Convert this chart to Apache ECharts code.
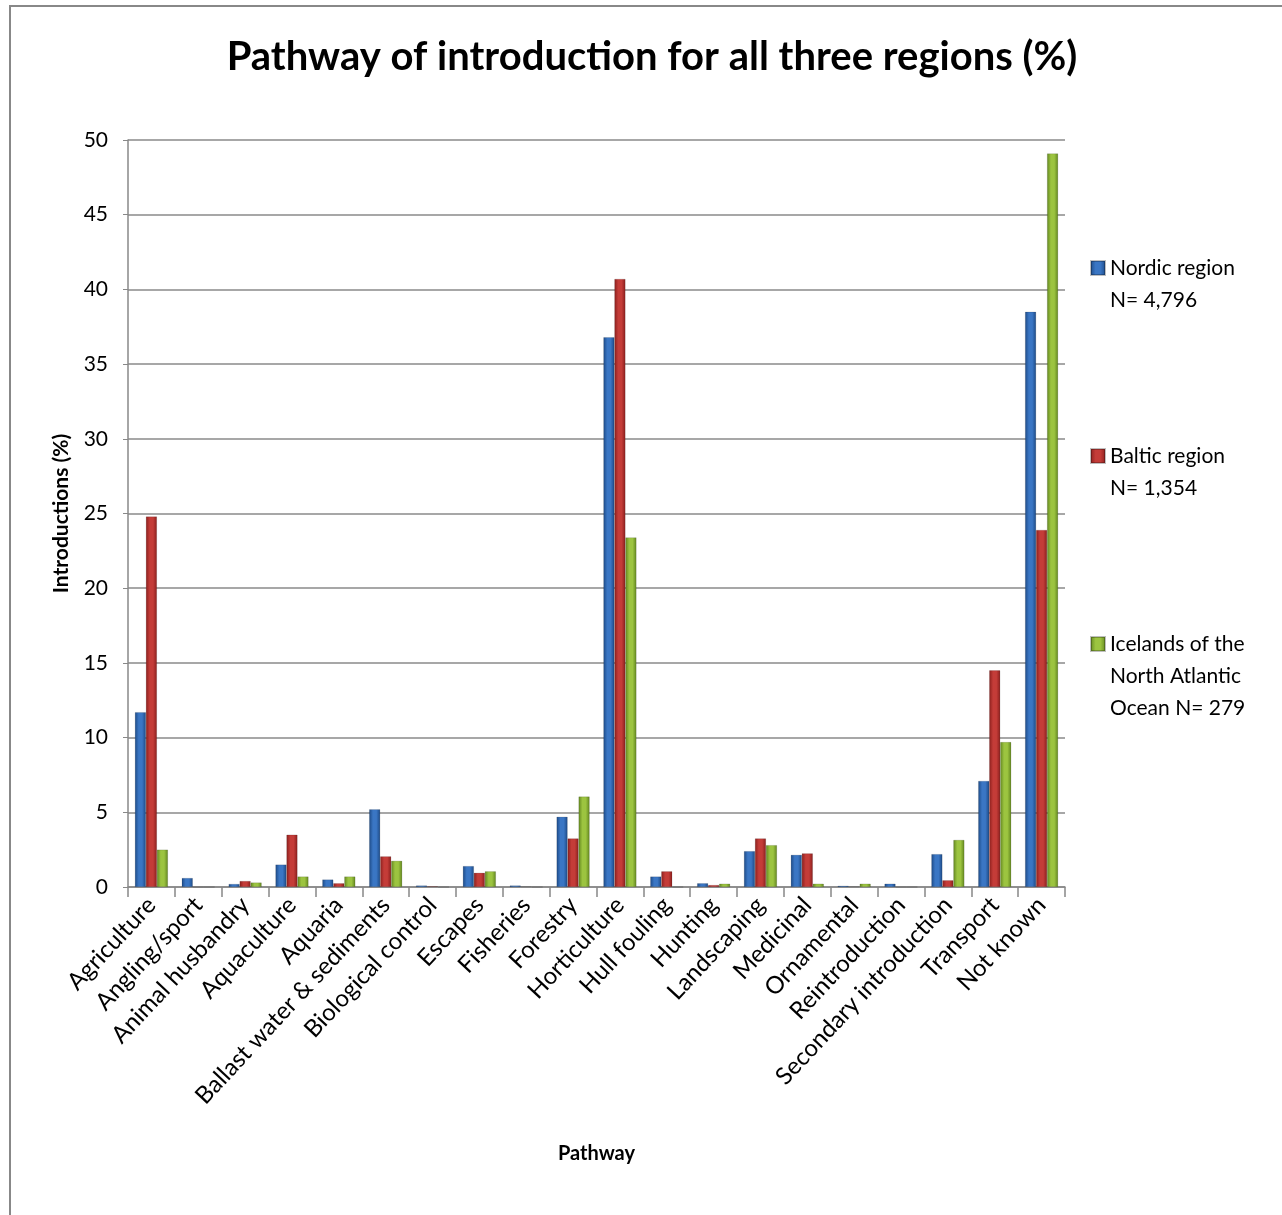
<!DOCTYPE html>
<html>
<head>
<meta charset="utf-8">
<script src="https://cdn.jsdelivr.net/npm/echarts@6/dist/echarts.min.js"></script>
<style>
html,body{margin:0;padding:0;background:#fff;}
#chart{width:1282px;height:1215px;}
</style>
</head>
<body>
<div id="chart"></div>
<script>
const categories = ['Agriculture','Angling/sport','Animal husbandry','Aquaculture','Aquaria','Ballast water & sediments','Biological control','Escapes','Fisheries','Forestry','Horticulture','Hull fouling','Hunting','Landscaping','Medicinal','Ornamental','Reintroduction','Secondary introduction','Transport','Not known'];
const nordic = [11.7,0.6,0.2,1.5,0.5,5.2,0.1,1.4,0.1,4.7,36.8,0.7,0.25,2.4,2.15,0.08,0.22,2.2,7.1,38.5];
const baltic = [24.8,0,0.4,3.5,0.25,2.05,0.05,0.95,0.03,3.25,40.7,1.05,0.13,3.25,2.25,0.03,0,0.45,14.5,23.9];
const iceland = [2.5,0,0.3,0.7,0.7,1.75,0,1.05,0,6.05,23.4,0,0.22,2.8,0.22,0.22,0,3.15,9.7,49.1];
const seriesNames = ['Nordic region\nN= 4,796','Baltic region\nN= 1,354','Icelands of the\nNorth Atlantic\nOcean N= 279'];
const yTicks = [0,5,10,15,20,25,30,35,40,45,50];

const FONT = 'Lato, "Open Sans", sans-serif';
function grad(d, m){
  return new echarts.graphic.LinearGradient(0,0,1,0,[
    {offset:0,color:d},{offset:0.35,color:m},{offset:0.65,color:m},{offset:1,color:d}
  ]);
}
const colors = [grad('#1d4a86','#3a76c4'), grad('#8a1f1d','#c43c38'), grad('#62861f','#9cc440')];
const chart = echarts.init(document.getElementById('chart'));
const dataSets = [nordic, baltic, iceland];
const LH = 32;
const legendCenters = [268, 456, 644];
chart.setOption({
  animation:false,
  graphic:[{type:'rect',shape:{x:10,y:6,width:1400,height:1400},style:{fill:'none',stroke:'#888',lineWidth:2},z:-1}],
  title:{text:'Pathway of introduction for all three regions (%)',left:647,textAlign:'center',top:32,
    textStyle:{fontFamily:FONT,fontWeight:'bold',fontSize:40,color:'#000'}},
  legend: seriesNames.map((n,i)=>{
    const lines = n.split('\n').length;
    const total = 2*lines-1;
    return {
      data:[n],
      formatter: name => '\n'.repeat(lines-1) + name,
      orient:'vertical',left:1090,top:legendCenters[i] - total*LH/2,padding:0,
      itemWidth:14,itemHeight:14,icon:'rect',
      textStyle:{fontFamily:FONT,fontSize:21,lineHeight:LH,color:'#000'}
    };
  }),
  grid:{left:128,right:217,top:140,bottom:328,containLabel:false},
  xAxis:{type:'category',data:categories,name:'Pathway',nameLocation:'middle',nameGap:257,
    nameTextStyle:{fontFamily:FONT,fontWeight:'bold',fontSize:20,color:'#000'},
    axisLine:{lineStyle:{color:'#888',width:1.5}},
    axisTick:{show:true,length:10,alignWithLabel:false,lineStyle:{color:'#888',width:1.5}},
    axisLabel:{rotate:47,fontFamily:FONT,fontSize:24,color:'#000',margin:14,interval:0}},
  yAxis:{type:'value',min:0,max:50,interval:5,name:'Introductions (%)',nameLocation:'middle',nameGap:56,
    nameTextStyle:{fontFamily:FONT,fontWeight:'bold',fontSize:21,color:'#000'},
    axisLine:{show:true,lineStyle:{color:'#888',width:1.5}},
    axisTick:{show:true,length:5,lineStyle:{color:'#888'}},
    axisLabel:{fontFamily:FONT,fontSize:21,color:'#000',margin:20,
      formatter:v=>yTicks.includes(v)?String(v):''},
    splitLine:{lineStyle:{color:'#8a8a8a',width:1.5}}},
  series: dataSets.map((d,i)=>({
    type:'bar',name:seriesNames[i],data:d,barWidth:11,barGap:'0%',
    itemStyle:{color:colors[i],borderColor:'rgba(0,0,0,0.25)',borderWidth:0.5}
  }))
});
</script>
</body>
</html>
